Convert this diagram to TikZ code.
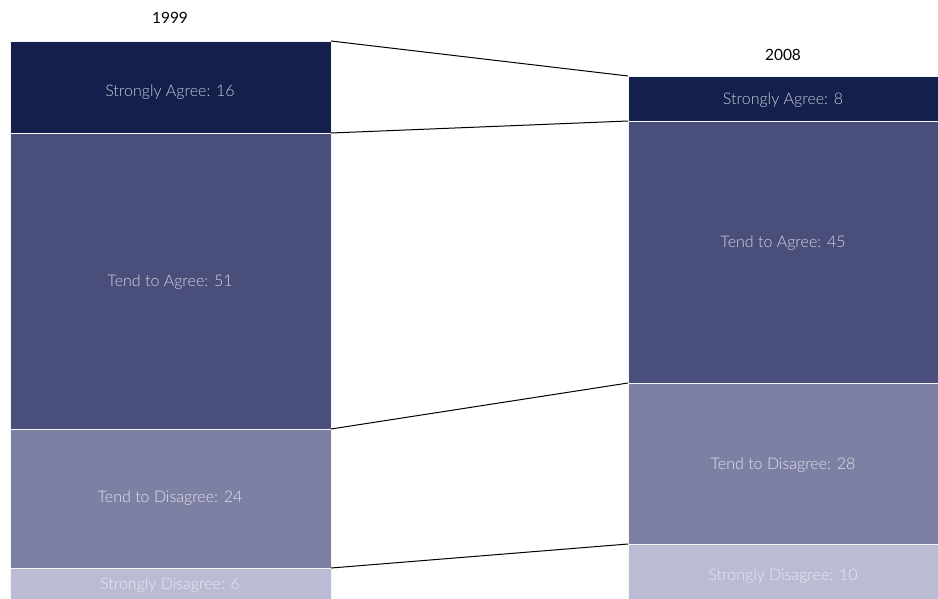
\documentclass[tikz,border=0pt]{standalone}
\usepackage{fontspec}
\setmainfont{Lato Light}[BoldFont=Lato]
\definecolor{cSA}{HTML}{13204B}
\definecolor{cTA}{HTML}{4A4E7A}
\definecolor{cTD}{HTML}{7E80A3}
\definecolor{cSD}{HTML}{BBBCD3}
\definecolor{tSA}{HTML}{C9CCDA}
\definecolor{tTA}{HTML}{D3D5E2}
\definecolor{tTD}{HTML}{E2E3EC}
\definecolor{tSD}{HTML}{E9E9F1}
\tikzset{
  seg/.style={rectangle, inner sep=0pt, outer sep=0pt, draw=white!85!cSD, line width=0.8pt},
  lab/.style={inner sep=0pt, font=\fontsize{16}{18}\selectfont},
  yr/.style={inner sep=0pt, font=\fontsize{15.5}{17}\selectfont\bfseries},
  link/.style={draw=black, line width=1pt}
}
\begin{document}
\begin{tikzpicture}[x=1pt, y=-1pt]
\useasboundingbox (0,0) rectangle (938,598);
% left column 1999 (x 10..331)
\node[seg, fill=cSA, minimum width=321pt, minimum height=92pt] (l1) at (170.5,87) {};
\node[seg, fill=cTA, minimum width=321pt, minimum height=296pt] (l2) at (170.5,281) {};
\node[seg, fill=cTD, minimum width=321pt, minimum height=139pt] (l3) at (170.5,498.5) {};
\node[seg, fill=cSD, minimum width=321pt, minimum height=40pt] (l4) at (170.5,588) {};
% right column 2008 (x 628..938)
\node[seg, fill=cSA, minimum width=312pt, minimum height=45pt] (r1) at (784,98.5) {};
\node[seg, fill=cTA, minimum width=312pt, minimum height=262pt] (r2) at (784,252) {};
\node[seg, fill=cTD, minimum width=312pt, minimum height=161pt] (r3) at (784,463.5) {};
\node[seg, fill=cSD, minimum width=312pt, minimum height=64pt] (r4) at (784,576) {};
% labels
\node[lab, text=tSA] (tl1) at (170,92) {Strongly Agree: 16};
\node[lab, text=tTA] (tl2) at (170,282) {Tend to Agree: 51};
\node[lab, text=tTD] (tl3) at (170,498) {Tend to Disagree: 24};
\node[lab, text=tSD] (tl4) at (170,585) {Strongly Disagree: 6};
\node[lab, text=tSA] (tr1) at (783,100) {Strongly Agree: 8};
\node[lab, text=tTA] (tr2) at (783,243) {Tend to Agree: 45};
\node[lab, text=tTD] (tr3) at (783,465) {Tend to Disagree: 28};
\node[lab, text=tSD] (tr4) at (783,576) {Strongly Disagree: 10};
% years
\node[yr] (y1) at (170,18) {1999};
\node[yr] (y2) at (783,55) {2008};
% connectors
\draw[link] (l1.north east) -- (r1.north west);
\draw[link] (l1.south east) -- (r1.south west);
\draw[link] (l2.south east) -- (r2.south west);
\draw[link] (l3.south east) -- (r3.south west);
\end{tikzpicture}
\end{document}
